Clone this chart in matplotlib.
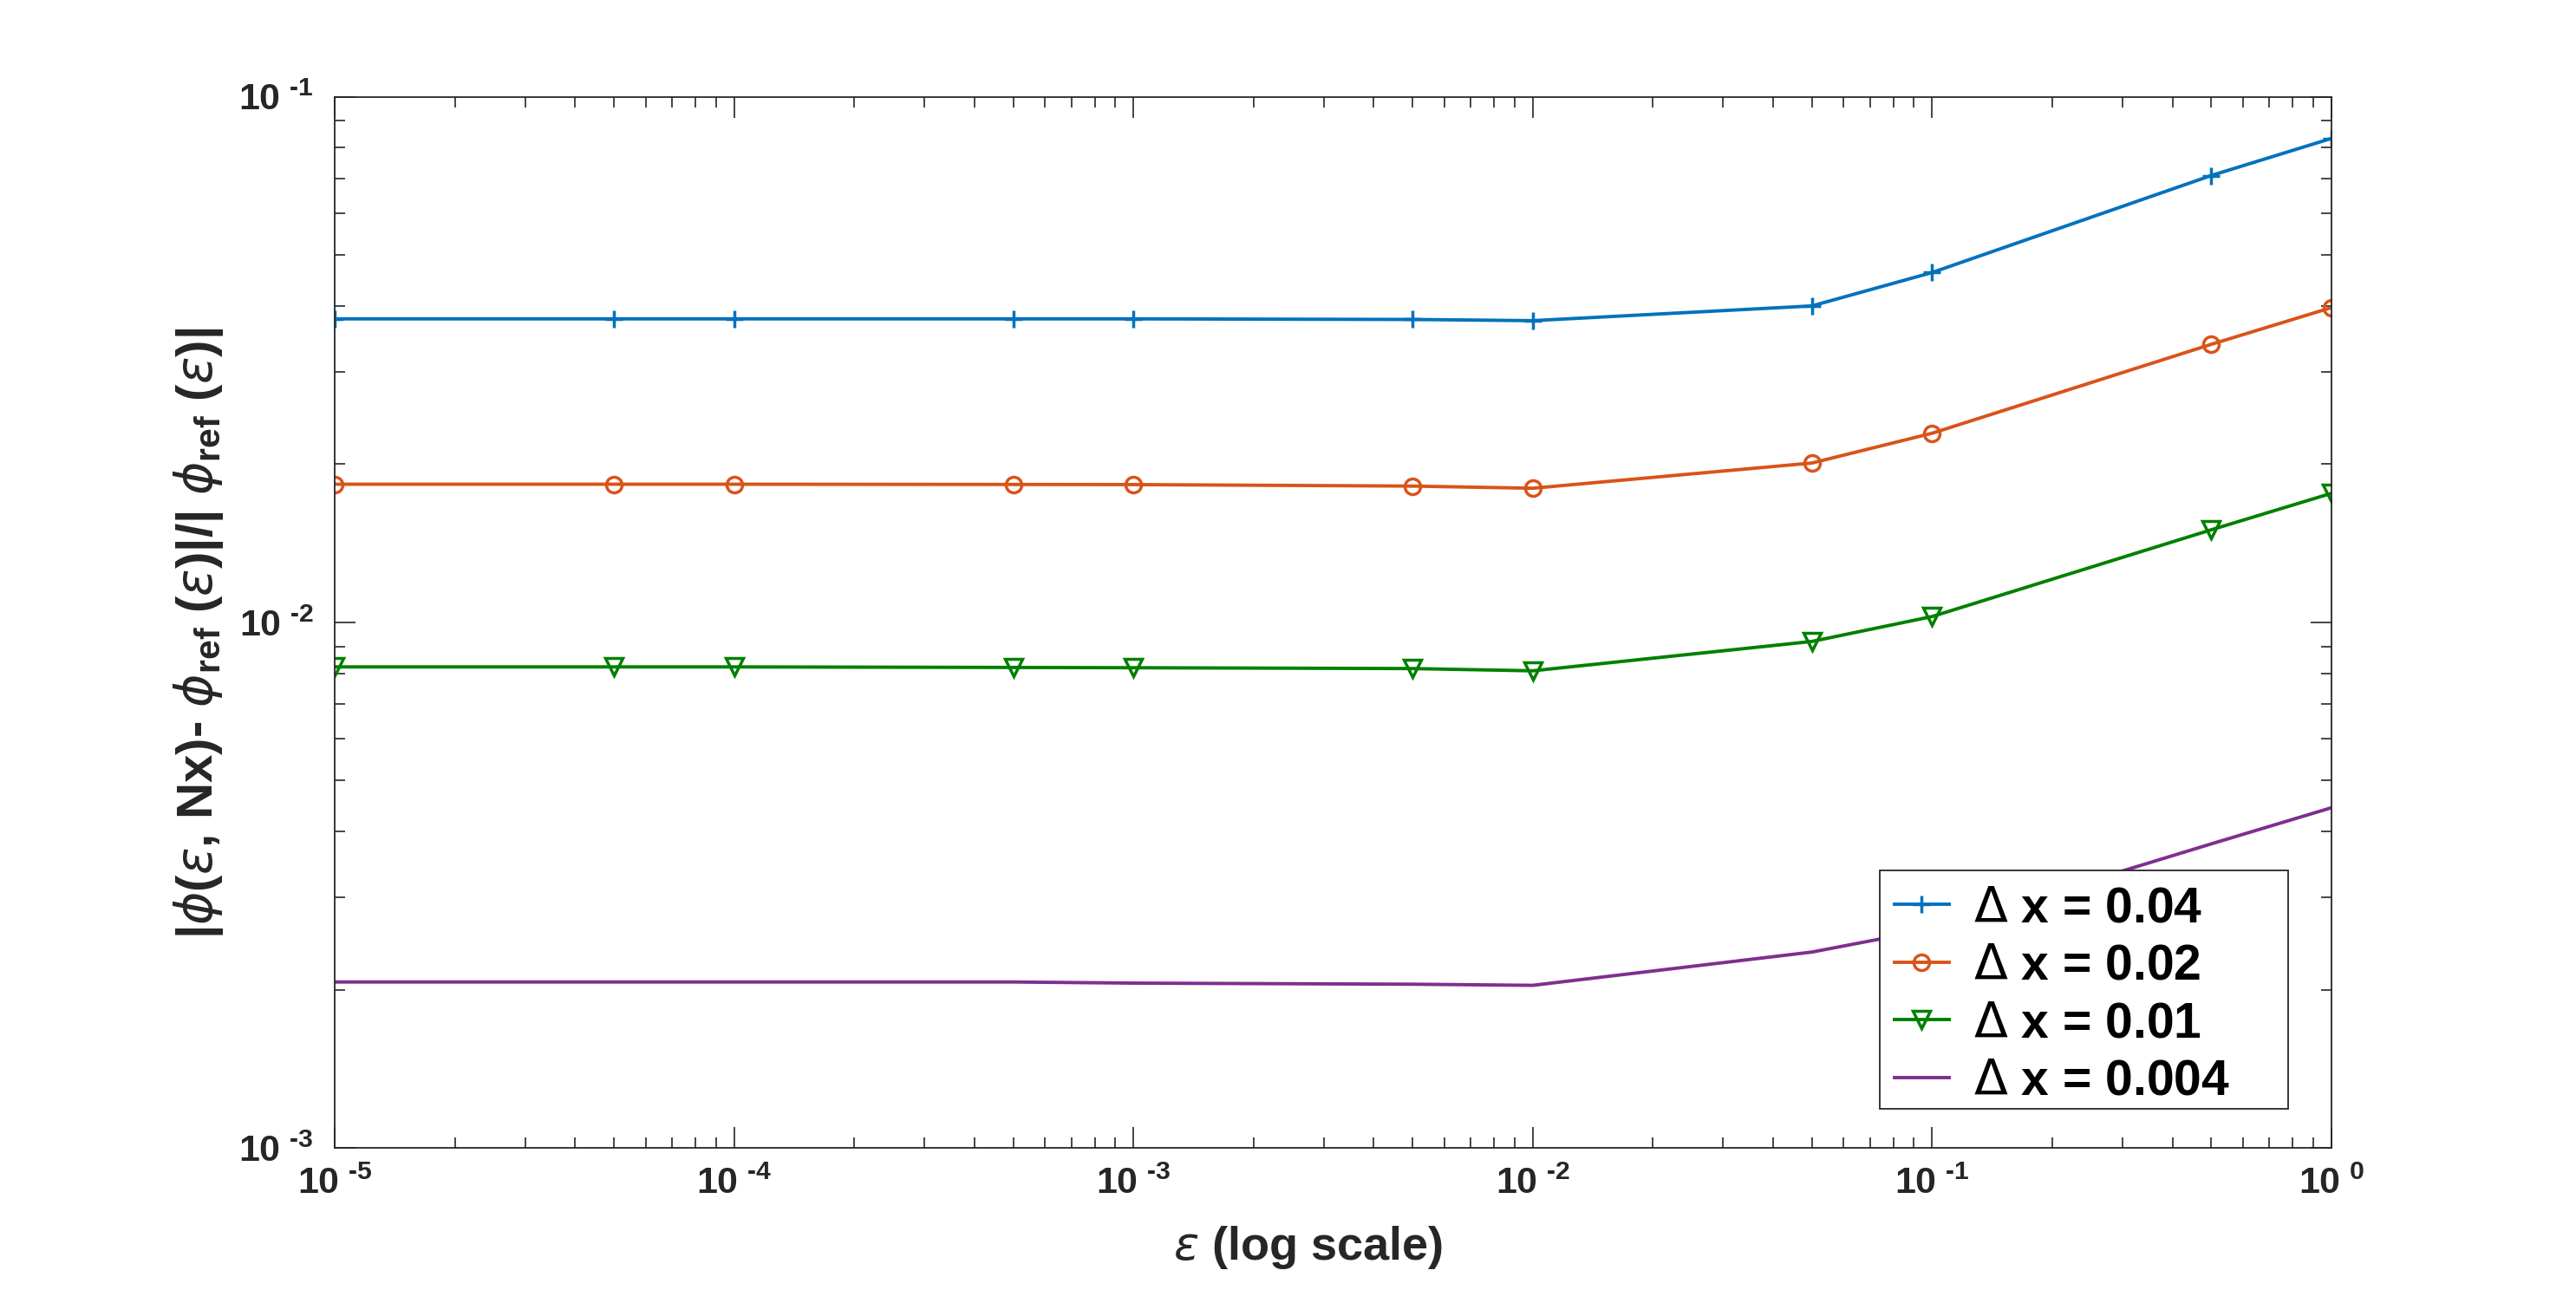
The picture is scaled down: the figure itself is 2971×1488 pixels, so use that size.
import math
import matplotlib
matplotlib.use("Agg")
import matplotlib.pyplot as plt
from matplotlib.patches import Rectangle
from matplotlib.ticker import FixedLocator, LogLocator, NullFormatter

# values (log-log)
eps = [1e-5, 5e-5, 1e-4, 5e-4, 1e-3, 5e-3, 1e-2, 5e-2, 1e-1, 5e-1, 1.0]
err_dx004 = [0.0378, 0.0378, 0.0378, 0.0378, 0.0378, 0.0377, 0.0375, 0.0400, 0.0463, 0.0708, 0.0833]
err_dx002 = [0.01832, 0.01832, 0.01832, 0.01830, 0.01829, 0.01817, 0.0180, 0.0201, 0.0229, 0.0338, 0.0397]
err_dx001 = [0.00823, 0.00823, 0.00823, 0.00821, 0.00820, 0.00817, 0.00809, 0.00920, 0.01026, 0.0150, 0.0176]
err_dx0004 = [0.00207, 0.00207, 0.00207, 0.00207, 0.00206, 0.00205, 0.00204, 0.00236, 0.00261, 0.00379, 0.00444]

labels = [r'$\Delta$ x = 0.04', r'$\Delta$ x = 0.02', r'$\Delta$ x = 0.01', r'$\Delta$ x = 0.004']
xticks = [1e-5, 1e-4, 1e-3, 1e-2, 1e-1, 1e0]
yticks = [1e-3, 1e-2, 1e-1]

plt.rcParams['font.family'] = ['Liberation Sans', 'DejaVu Sans']
plt.rcParams['mathtext.fontset'] = 'custom'
plt.rcParams['mathtext.rm'] = 'DejaVu Sans:weight=normal'
plt.rcParams['mathtext.it'] = 'DejaVu Sans:style=italic:weight=normal'
plt.rcParams['mathtext.bf'] = 'Liberation Sans:weight=bold'


def pow10_label(v):
    # MATLAB style "10 ^-n" with a short hyphen
    e = int(round(math.log10(v)))
    s = str(abs(e)) if e >= 0 else '\u2010' + str(abs(e))
    return r'$\mathbf{10}^{\ \mathbf{%s}}$' % s


W, H = 2971, 1488
fig = plt.figure(figsize=(W / 100, H / 100), dpi=100)
ax = fig.add_axes([0.13, 0.11, 0.775, 0.815])

lw = 2.8
ax.plot(eps, err_dx004, color='#0072BD', lw=lw, marker='+', ms=15, mew=2.5, label=labels[0])
ax.plot(eps, err_dx002, color='#D95319', lw=lw, marker='o', ms=13, mew=2.5, mfc='none', label=labels[1])
ax.plot(eps, err_dx001, color='#008000', lw=lw, marker='v', ms=15, mew=2.5, mfc='none', label=labels[2])
ax.plot(eps, err_dx0004, color='#7E2F8E', lw=lw, label=labels[3])

ax.set_xscale('log')
ax.set_yscale('log')
ax.set_xlim(1e-5, 1)
ax.set_ylim(1e-3, 1e-1)

ax.xaxis.set_major_locator(FixedLocator(xticks))
ax.yaxis.set_major_locator(FixedLocator(yticks))
ax.set_xticklabels([pow10_label(v) for v in xticks])
ax.set_yticklabels([pow10_label(v) for v in yticks])
ax.xaxis.set_minor_locator(LogLocator(base=10, subs=range(2, 10), numticks=20))
ax.yaxis.set_minor_locator(LogLocator(base=10, subs=range(2, 10), numticks=20))
ax.xaxis.set_minor_formatter(NullFormatter())
ax.yaxis.set_minor_formatter(NullFormatter())

axcol = '#262626'
for s in ax.spines.values():
    s.set_color(axcol)
    s.set_linewidth(1.3)
ax.tick_params(which='both', direction='in', top=True, right=True, color=axcol, width=1.2)
ax.tick_params(which='major', length=17, labelsize=31, labelcolor=axcol)
ax.tick_params(which='minor', length=8.5)
ax.tick_params(axis='x', which='major', pad=15)
ax.tick_params(axis='y', which='major', pad=18)

ax.set_xlabel(r'$\epsilon$ (log scale)', fontsize=39, fontweight='bold', color=axcol)
ax.xaxis.set_label_coords(0.4876, -0.072)
ax.set_ylabel(r'|$\phi$($\epsilon$, Nx)- $\phi_{\mathbf{ref}}$ ($\epsilon$)|/| $\phi_{\mathbf{ref}}$ ($\epsilon$)|',
              fontsize=42, fontweight='bold', color=axcol,
              family=['Liberation Sans Narrow', 'Liberation Sans'])
ax.yaxis.set_label_coords(-0.055, 0.49)

# legend box drawn by hand (MATLAB leaves extra room on the right)
box_l, box_t, box_r, box_b = 2168, 1004, 2639, 1279
fig.patches.append(Rectangle((box_l / W, 1 - box_b / H), (box_r - box_l) / W, (box_b - box_t) / H,
                             transform=fig.transFigure, facecolor='white', edgecolor=axcol,
                             linewidth=1.3, zorder=5))
leg = ax.legend(loc='upper left', bbox_to_anchor=(box_l / W, 1 - box_t / H),
                bbox_transform=fig.transFigure, frameon=False,
                prop={'size': 41, 'weight': 'bold'},
                borderaxespad=0, handlelength=1.1, handletextpad=0.5, borderpad=0.3,
                labelspacing=0.22)
leg.set_zorder(6)
leg.remove()
fig.legends.append(leg)
leg.figure = fig

fig.savefig('out.png', dpi=100, facecolor='white')
